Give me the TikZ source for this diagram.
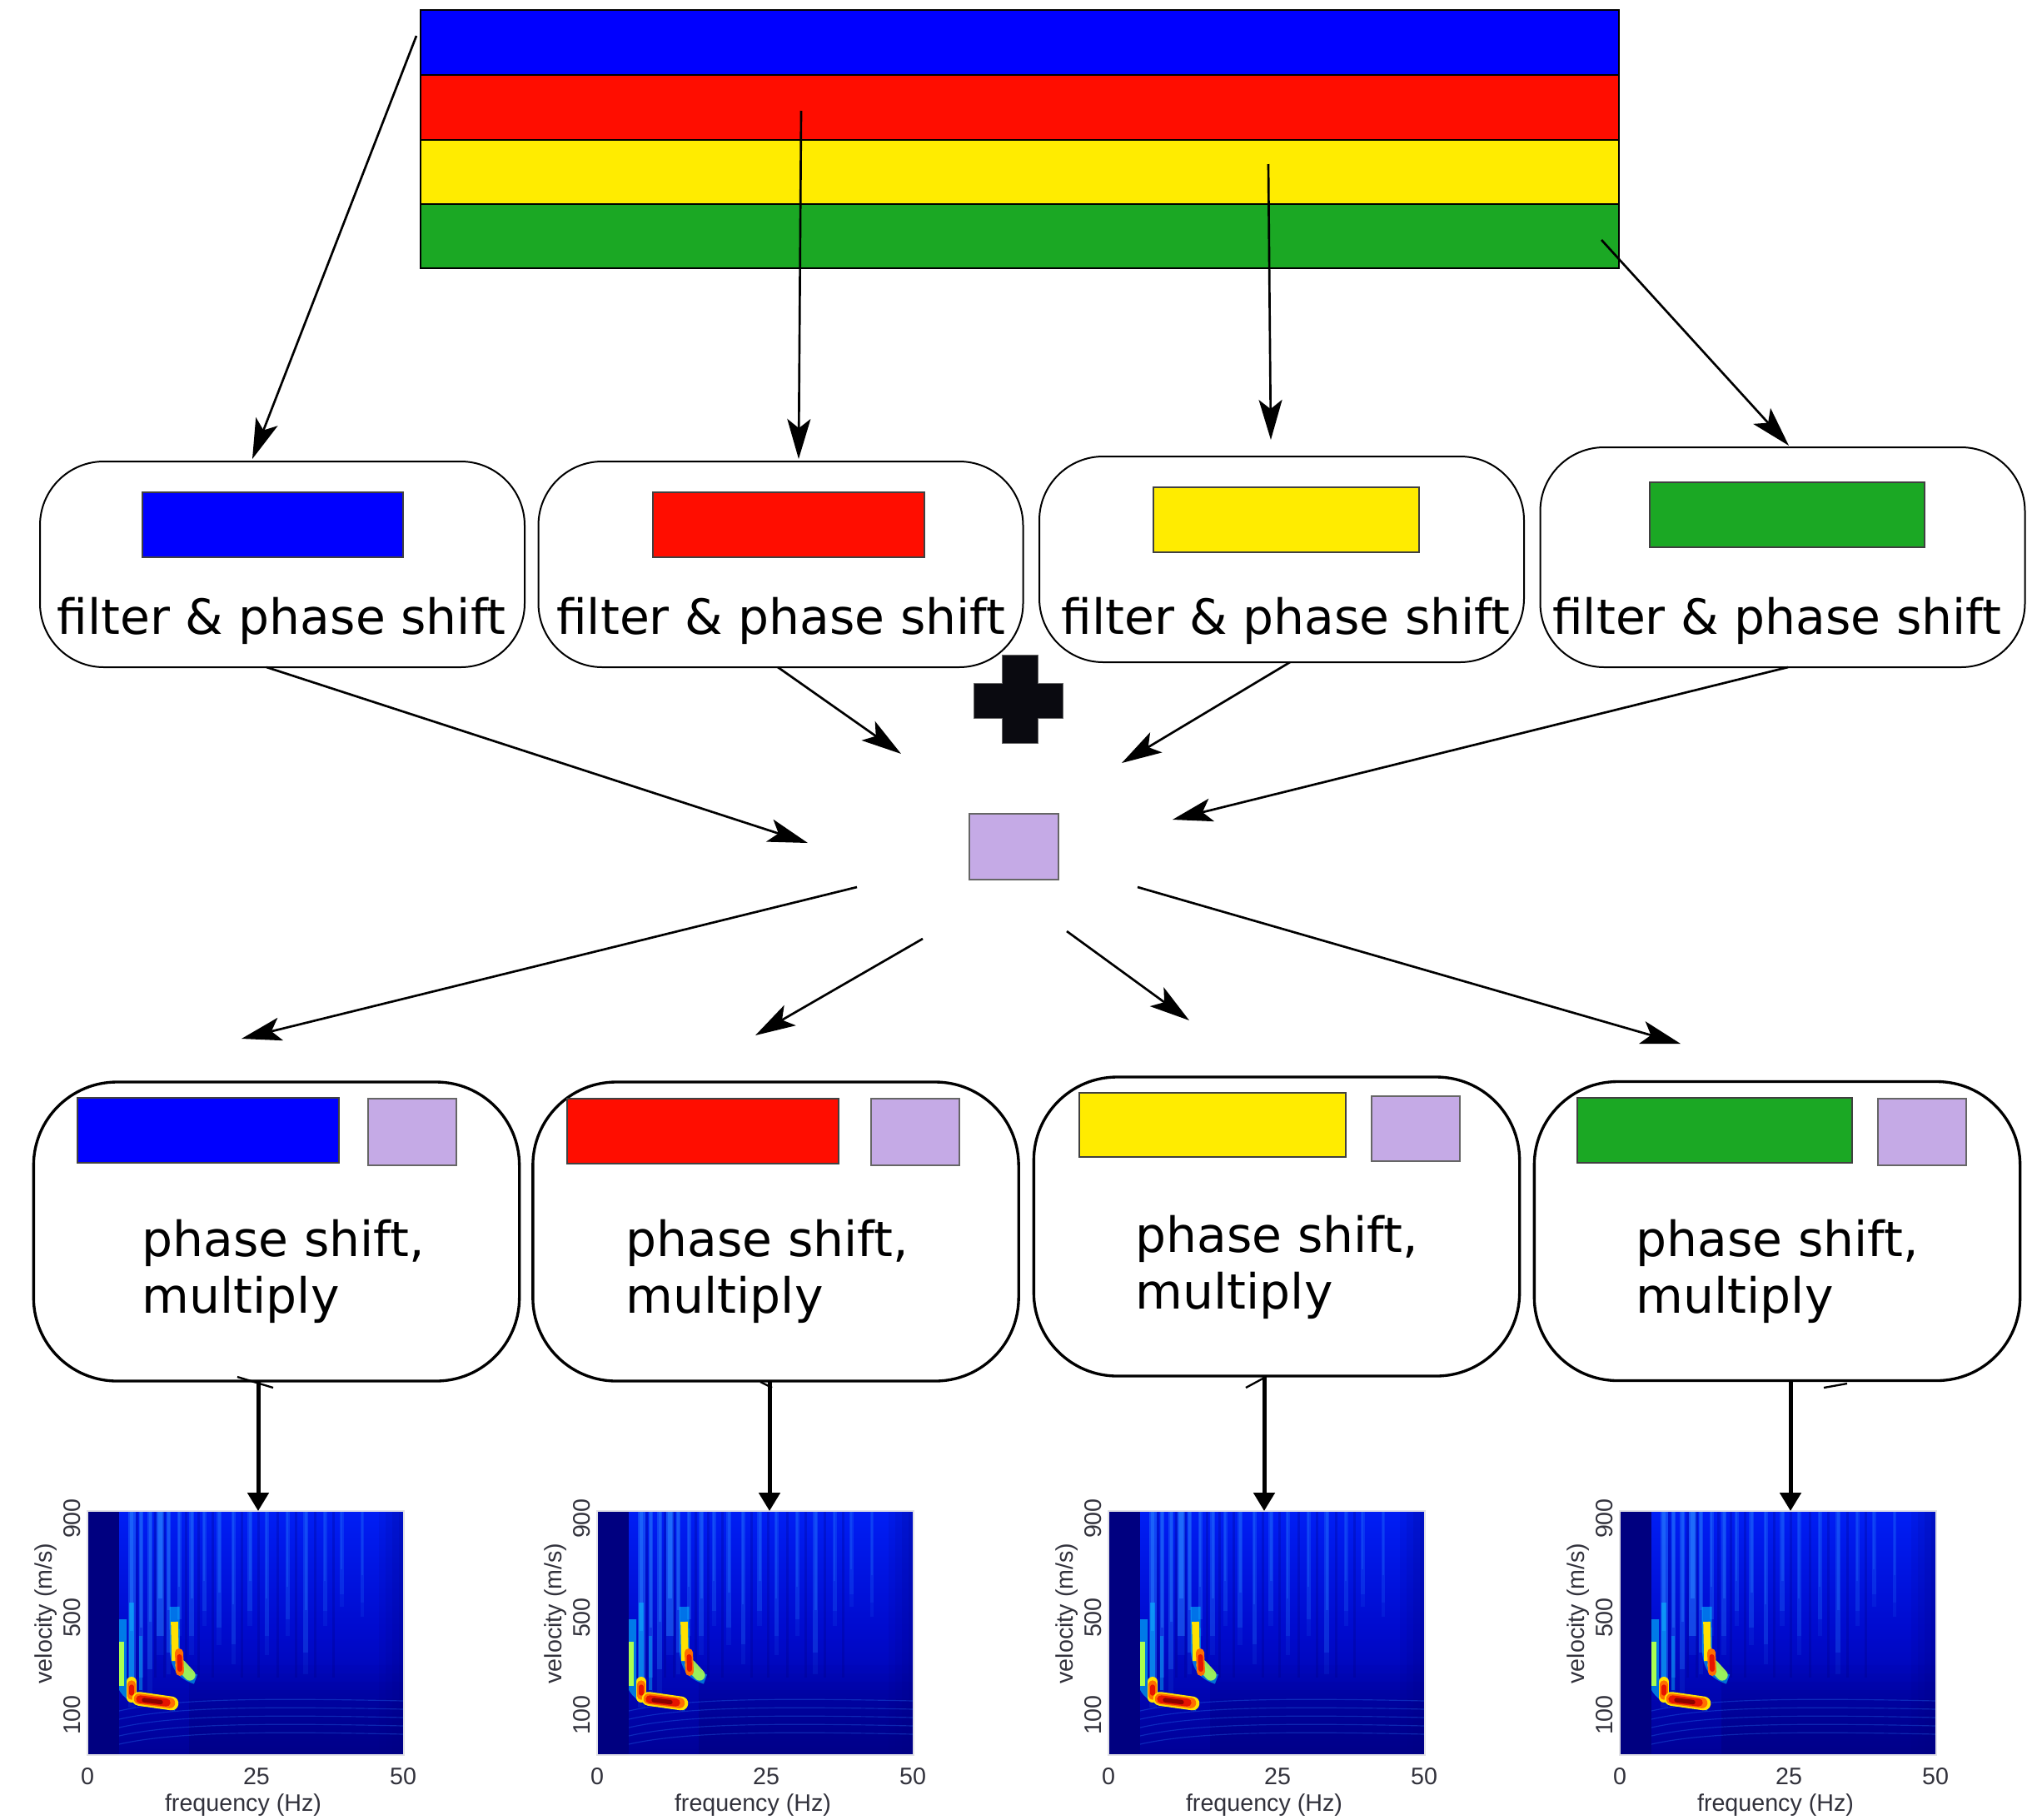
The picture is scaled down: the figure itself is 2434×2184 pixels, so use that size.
\documentclass[tikz,border=0pt]{standalone}
\usepackage{fontspec}
\setmainfont{DejaVu Sans}
\newfontfamily\plotfont{Liberation Sans}
\usetikzlibrary{arrows.meta}
\definecolor{cblue}{RGB}{0,0,255}
\definecolor{cred}{RGB}{255,13,0}
\definecolor{cyellow}{RGB}{255,236,0}
\definecolor{cgreen}{RGB}{27,168,36}
\definecolor{cpurple}{RGB}{197,170,230}
\definecolor{cplus}{RGB}{10,10,16}
\definecolor{jnavy}{RGB}{0,0,128}
\definecolor{jtop}{RGB}{0,30,245}
\definecolor{jmid}{RGB}{0,10,205}
\definecolor{jbot}{RGB}{0,0,150}
\definecolor{jlight}{RGB}{40,130,255}
\definecolor{jcyan}{RGB}{0,215,255}
\definecolor{jlime}{RGB}{170,255,80}
\definecolor{jyellow}{RGB}{255,225,0}
\definecolor{jorange}{RGB}{255,110,0}
\definecolor{jred}{RGB}{230,20,0}
\definecolor{jdred}{RGB}{140,0,0}
\definecolor{jframe}{RGB}{225,225,230}
\definecolor{plotgray}{RGB}{50,50,60}
\tikzset{
  spec/.pic={
    \fill[jnavy] (0,0) rectangle (380,293);
    \begin{scope}
      \clip (38,0) rectangle (380,293);
      \shade[top color=jtop, bottom color=jbot, middle color=jmid] (38,0) rectangle (380,293);
      % vertical streaks (soft)
      \foreach \c/\w/\h/\oa/\ob in {53/9/205/0.35/0.45, 64.5/5/200/0.3/0.35, 75/6/190/0.3/0.35, 87.5/9/150/0.45/0.55, 97.5/5/170/0.3/0.35, 110/5/130/0.25/0.3, 125/6/150/0.25/0.3, 140/5/120/0.2/0.25, 158/6/140/0.22/0.28, 175/5/160/0.2/0.25, 195/6/120/0.2/0.25, 215/5/150/0.18/0.22, 240/5/130/0.18/0.22, 262/6/170/0.2/0.25, 285/5/120/0.15/0.2, 305/5/100/0.15/0.2, 330/4/110/0.12/0.18}{
        \fill[jlight, opacity=0.12] (\c-\w/2,0) rectangle (\c+\w/2,1.15*\h);
        \fill[jlight, opacity=\oa] (\c-\w/2,0) rectangle (\c+\w/2,\h);
        \fill[jlight, opacity=\ob] (\c-\w/4,0) rectangle (\c+\w/4,0.7*\h);
      }
      % dark gaps
      \foreach \c in {59, 81, 92, 118, 133, 150, 185, 205, 228, 250, 273, 295}
        \fill[jnavy, opacity=0.25] (\c-1.5,0) rectangle (\c+1.5,200);
      % darker lower right and right edge
      \foreach \yy/\o in {185/0.06, 195/0.12, 205/0.2, 215/0.27, 225/0.33, 235/0.39, 245/0.44, 255/0.48, 265/0.52, 275/0.55, 285/0.58}
        \fill[jnavy, opacity=\o] (122,\yy) rectangle (380,\yy+10);
      \foreach \xx/\o in {350/0.1, 358/0.2, 366/0.3, 374/0.4}
        \fill[jnavy, opacity=\o] (\xx,0) rectangle (\xx+8,293);
      % faint lines in lower part
      \foreach \yy in {240,250,260,270,280}
        \draw[jlight, opacity=0.3, line width=0.35pt] (38,\yy) .. controls (100,\yy-14) and (200,\yy-16) .. (380,\yy-12);
      % cyan streaks
      \draw[jcyan, opacity=0.45, line width=2pt] (53,110) -- (53,212);
      \draw[jcyan, opacity=0.35, line width=1.3pt] (64,150) -- (64,215);
      % branch A
      \draw[jcyan, opacity=0.55, line width=4pt] (40.5,130) -- (40.5,200) .. controls (42,214) and (50,222) .. (64,227) -- (106,233);
      \draw[jlime, line width=2.2pt] (40.5,157) -- (40.5,210);
      \draw[jyellow, line width=3.6pt, line cap=round] (53,205) -- (53,224);
      \draw[jorange, line width=2.8pt, line cap=round] (53,208) -- (53,222);
      \draw[jred, line width=1.6pt, line cap=round] (53,211) -- (53,219);
      \draw[jyellow, line width=5pt, line cap=round] (62,225.5) -- (101,231);
      \draw[jorange, line width=3.8pt, line cap=round] (62,225.5) -- (99,230.5);
      \draw[jred, line width=2.8pt, line cap=round] (63,226) -- (95,230);
      \draw[jdred, line width=1.6pt, line cap=round] (68,227) -- (88,229.5);
      % branch B
      \draw[jcyan, opacity=0.5, line width=3.6pt] (104.5,115) -- (105,170) .. controls (107,188) and (113,196) .. (130,202);
      \draw[jlime, opacity=0.9, line width=4pt, line cap=round] (112,185) -- (123,197);
      \draw[jyellow, line width=2.6pt] (104.5,133) -- (105.5,180);
      \draw[jorange, line width=3pt, line cap=round] (110,170) -- (111,193);
      \draw[jred, line width=1.8pt, line cap=round] (110.5,175) -- (111,190);
    \end{scope}
    \draw[jframe, line width=0.4pt] (0,0) rectangle (380,293);
  }
}
\begin{document}
\begin{tikzpicture}[x=0.3pt,y=-0.3pt,
  stripe/.style={draw=black, line width=0.8pt, inner sep=0pt, outer sep=0pt, minimum width=431.7pt},
  swatch/.style={draw=black!75, line width=0.35pt, inner sep=0pt, outer sep=0pt, minimum height=23.4pt},
  fbox/.style={draw, rounded corners=23pt, line width=0.6pt, minimum width=174.6pt, minimum height=74.1pt, inner sep=0pt, outer sep=0pt},
  bbox/.style={draw, rounded corners=30pt, line width=1pt, minimum width=175pt, minimum height=107.7pt, inner sep=0pt, outer sep=0pt},
  lbl/.style={font=\fontsize{17.5}{20.4}\selectfont, inner sep=0pt, anchor=base},
  mlbl/.style={font=\fontsize{17.5}{20.4}\selectfont, inner sep=0pt, align=left, anchor=base west},
  arr/.style={line width=0.8pt, -{Stealth[length=14.4pt,width=8.4pt,inset=3.3pt]}},
  darr/.style={line width=1.5pt, -{Triangle[length=6.6pt,width=7.5pt]}},
  stroke/.style={line width=0.7pt},
  tk/.style={font=\plotfont\fontsize{8.6}{10}\selectfont, text=plotgray, inner sep=0pt},
  plotframe/.style={minimum width=114pt, minimum height=87.9pt, inner sep=0pt, outer sep=0pt},
]
\useasboundingbox (0,0) rectangle (2434,2184);

% top bar
\node[stripe, fill=cblue, minimum height=23.4pt] (sb) at (1224.5,51) {};
\node[stripe, fill=cred, minimum height=23.4pt] (sr) at (1224.5,129) {};
\node[stripe, fill=cyellow, minimum height=23.1pt] (sy) at (1224.5,206.5) {};
\node[stripe, fill=cgreen, minimum height=23.1pt] (sg) at (1224.5,283.5) {};

% filter boxes
\node[fbox] (fb1) at (339,677.5) {};
\node[fbox] (fb2) at (937.5,677.5) {};
\node[fbox] (fb3) at (1539,671.5) {};
\node[fbox, minimum height=79.2pt] (fb4) at (2140.5,669) {};
\node[swatch, fill=cblue, minimum width=93.9pt] (f1) at (327.5,630) {};
\node[swatch, fill=cred, minimum width=97.8pt] (f2) at (947,630) {};
\node[swatch, fill=cyellow, minimum width=95.7pt] (f3) at (1544.5,624) {};
\node[swatch, fill=cgreen, minimum width=99pt] (f4) at (2146,618) {};
\node[lbl] (l1) at (338,761) {filter \& phase shift};
\node[lbl] (l2) at (937.6,761) {filter \& phase shift};
\node[lbl] (l3) at (1543.8,761) {filter \& phase shift};
\node[lbl] (l4) at (2133.6,761) {filter \& phase shift};

% plus and centre swatch
\draw[fill=cplus, draw=black!60, line width=0.3pt] (1203,786) -- (1246,786) -- (1246,820) -- (1276,820) -- (1276,862) -- (1246,862) -- (1246,892) -- (1203,892) -- (1203,862) -- (1169,862) -- (1169,820) -- (1203,820) -- cycle;
\node[swatch, fill=cpurple, minimum width=32.1pt, minimum height=23.7pt, draw=black!60] (cs) at (1217.5,1016.5) {};

% bottom boxes
\node[bbox] (bb1) at (332,1478.5) {};
\node[bbox] (bb2) at (931.5,1478.5) {};
\node[bbox] (bb3) at (1533,1472.5) {};
\node[bbox] (bb4) at (2134,1478) {};
\node[swatch, fill=cblue, minimum width=94.2pt] (b1) at (250,1357) {};
\node[swatch, fill=cpurple, minimum width=31.8pt, minimum height=24pt, draw=black!60] (q1) at (495,1359) {};
\node[swatch, fill=cred, minimum width=97.8pt] (b2) at (844,1358) {};
\node[swatch, fill=cpurple, minimum width=31.8pt, minimum height=24pt, draw=black!60] (q2) at (1099,1359) {};
\node[swatch, fill=cyellow, minimum width=96pt, minimum height=23.1pt] (b3) at (1456,1350.5) {};
\node[swatch, fill=cpurple, minimum width=31.8pt, draw=black!60] (q3) at (1700,1355) {};
\node[swatch, fill=cgreen, minimum width=99pt] (b4) at (2059,1357) {};
\node[swatch, fill=cpurple, minimum width=31.8pt, minimum height=24pt, draw=black!60] (q4) at (2308,1359) {};
\node[mlbl] (m1) at (170,1576) {phase shift,\\multiply};
\node[mlbl] (m2) at (751,1576) {phase shift,\\multiply};
\node[mlbl] (m3) at (1363,1571) {phase shift,\\multiply};
\node[mlbl] (m4) at (1964,1576) {phase shift,\\multiply};

% arrows from top bar
\coordinate (t1s) at (500,43);   \coordinate (t1e) at (303,551);
\coordinate (t2s) at (962,133);  \coordinate (t2e) at (959,551);
\coordinate (t3s) at (1523,197); \coordinate (t3e) at (1526,528);
\coordinate (t4s) at (1923,288); \coordinate (t4e) at (2148,535);
\draw[arr] (t1s) -- (t1e);
\draw[arr] (t2s) -- (t2e);
\draw[arr] (t3s) -- (t3e);
\draw[arr] (t4s) -- (t4e);

% arrows into centre
\coordinate (c1s) at (320,801);  \coordinate (c1e) at (970,1012);
\coordinate (c2s) at (934,801);  \coordinate (c2e) at (1082,905);
\coordinate (c3s) at (1549,795); \coordinate (c3e) at (1347,916);
\coordinate (c4s) at (2147,801); \coordinate (c4e) at (1408,984);
\draw[arr] (c1s) -- (c1e);
\draw[arr] (c2s) -- (c2e);
\draw[arr] (c3s) -- (c3e);
\draw[arr] (c4s) -- (c4e);

% arrows out of centre
\coordinate (o1s) at (1029,1065); \coordinate (o1e) at (290,1247);
\coordinate (o2s) at (1108,1127); \coordinate (o2e) at (907,1243);
\coordinate (o3s) at (1281,1118); \coordinate (o3e) at (1428,1225);
\coordinate (o4s) at (1366,1065); \coordinate (o4e) at (2018,1253);
\draw[arr] (o1s) -- (o1e);
\draw[arr] (o2s) -- (o2e);
\draw[arr] (o3s) -- (o3e);
\draw[arr] (o4s) -- (o4e);

% small marks under the boxes
\draw[stroke] (285,1653) -- (328,1666);
\draw[stroke] (913,1659) -- (927,1666);
\draw[stroke] (1496,1666) -- (1520,1653);
\draw[stroke] (2190,1666) -- (2218,1661);

% plots
\pic at (105,1814) {spec};
\pic at (717,1814) {spec};
\pic at (1331,1814) {spec};
\pic at (1945,1814) {spec};
\node[plotframe] (p1) at (295,1960.5) {};
\node[plotframe] (p2) at (907,1960.5) {};
\node[plotframe] (p3) at (1521,1960.5) {};
\node[plotframe] (p4) at (2135,1960.5) {};
\foreach \L in {105, 717, 1331, 1945}{
  \node[tk] at (\L,2133) {0};
  \node[tk] at (\L+203,2133) {25};
  \node[tk] at (\L+379,2133) {50};
  \node[tk] at (\L+187,2167) {frequency (Hz)};
  \node[tk, rotate=90] at (\L-18,1823) {900};
  \node[tk, rotate=90] at (\L-18,1942) {500};
  \node[tk, rotate=90] at (\L-18,2059) {100};
  \node[tk, rotate=90] at (\L-50,1937) {velocity (m/s)};
}

% arrows to plots
\coordinate (d1s) at (310,1658);
\coordinate (d2s) at (924,1658);
\coordinate (d3s) at (1518,1652);
\coordinate (d4s) at (2150,1658);
\draw[darr] (d1s) -- (d1s |- p1.north);
\draw[darr] (d2s) -- (d2s |- p2.north);
\draw[darr] (d3s) -- (d3s |- p3.north);
\draw[darr] (d4s) -- (d4s |- p4.north);
\end{tikzpicture}
\end{document}
